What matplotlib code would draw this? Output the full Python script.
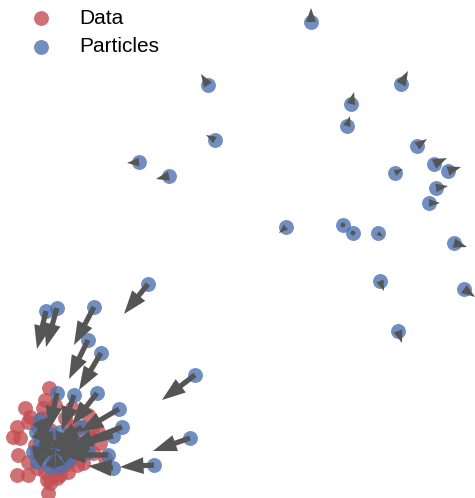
import matplotlib
matplotlib.use("Agg")
import matplotlib.pyplot as plt

# observed samples (red cloud)
data_x = [49, 45, 25, 30, 28, 43, 17, 13, 20, 18, 28, 17, 28, 37, 47, 50, 48, 58, 68, 83,
          65, 72, 68, 80, 92, 100, 93, 38, 42, 37, 53, 77, 65, 60, 70, 85, 55, 62, 50, 75,
          90, 35, 57, 45, 98, 105, 88]
data_y = [388, 400, 408, 417, 422, 408, 427, 437, 438, 455, 462, 475, 475, 468, 480, 483,
          493, 470, 472, 463, 418, 408, 425, 427, 427, 443, 453, 427, 418, 452, 462, 465,
          465, 475, 460, 453, 405, 440, 430, 435, 438, 445, 478, 472, 432, 458, 415]

# particle positions
part_x = [311, 208, 215, 139, 169, 401, 351, 347, 417, 434, 448, 395, 436, 429,
          286, 343, 353, 378, 454, 380, 464, 398,
          148, 46, 57, 94, 88, 101, 195, 57, 74, 97, 119, 122, 113, 190, 108, 113, 154,
          40, 82, 85, 88,
          36, 33, 37, 50, 60, 68, 72, 60, 48, 40, 65, 55, 45,
          45, 50, 58, 42, 52, 62, 48, 55, 44, 66]
part_y = [22, 85, 140, 162, 176, 84, 104, 126, 146, 164, 171, 173, 188, 203,
          227, 225, 233, 233, 243, 281, 289, 331,
          284, 311, 308, 307, 340, 353, 375, 393, 395, 393, 409, 427, 436, 438, 455, 468, 465,
          420, 427, 442, 452,
          432, 452, 462, 467, 466, 460, 438, 432, 433, 442, 450, 440, 455,
          440, 448, 445, 450, 455, 440, 438, 452, 446, 455]

# particle velocity (arrow tip minus position)
vel_x = [0, -7, -9, -12, -13, 7, 3, 3, 10, 13, 13, 8, 12, 11,
         -7, 0.5, 3, 5, 13, 4, 11, 4,
         -24, -9, -11, -20, -19, -22, -33, -8, -12, -25, -39, -52, -48, -37, -46, -25, -34,
         10, -27, -30, -30,
         15, 18, 14, 5, -4, -10, -14, -4, 6, 12, -8, 0, 8,
         -5, -8, -10, 6, -4, -12, 3, -10, 8, -12]
vel_y = [-14, -11, -5, 1, 3, -13, -12, -10, -7, -6, -4, -4, -2, 0,
         6, 0.5, 4, 4, 4, 10, 8, 12,
         30, 38, 39, 38, 39, 37, 25, 37, 35, 32, 23, 20, 12, 13, 0, -2, 2,
         22, 15, 6, 0,
         12, -3, -10, -14, -13, -9, 8, 12, 12, 5, -2, 7, -5,
         8, -4, 3, -5, -8, 6, 10, -2, 2, -4]

fig = plt.figure(figsize=(4.75, 4.98), dpi=100)
ax = fig.add_axes([0, 0, 1, 1])

ax.scatter(data_x, data_y, s=115, color="#C44E52", alpha=0.8, linewidths=0, label="Data", zorder=1)
ax.scatter(part_x, part_y, s=115, color="#4C72B0", alpha=0.8, linewidths=0, label="Particles", zorder=2)
ax.quiver(part_x, part_y, vel_x, vel_y, angles="xy", scale_units="xy", scale=1,
          color="#555555", width=0.011, headwidth=3.2, headlength=4.5, zorder=3)

ax.set_xlim(0, 475)
ax.set_ylim(498, 0)
ax.axis("off")

ax.legend(loc="upper left", frameon=False, borderaxespad=0, borderpad=0.42,
          handlelength=3.1, handletextpad=0.3, labelspacing=0.45,
          prop={"family": "Liberation Sans", "size": 15})

fig.savefig("out.png", dpi=100)
